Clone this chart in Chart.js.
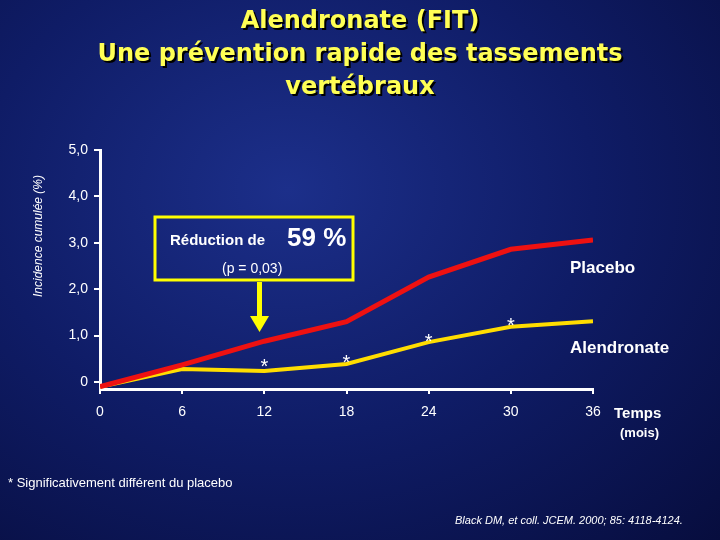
<!DOCTYPE html>
<html><head><meta charset="utf-8">
<script src="https://cdn.jsdelivr.net/npm/chart.js"></script>
<style>html,body{margin:0;padding:0;background:#0a1250}#w{width:720px;height:540px;background:radial-gradient(ellipse at 40% 35%,#1c2f8a 0%,#0f1c66 50%,#070d3e 100%)}</style>
</head><body><div id="w"><canvas id="c" width="720" height="540"></canvas></div>
<script>
const months=[0,6,12,18,24,30,36];
const placebo=[-0.1,0.37,0.88,1.3,2.26,2.86,3.06];
const alendronate=[-0.1,0.28,0.24,0.39,0.86,1.19,1.31];
const yTicks=[0,1,2,3,4,5];
const stars=[[12,0.4],[18,0.5],[24,0.95],[30,1.3]];
const deco={id:'deco',afterDraw(ch){const c=ch.ctx,x=ch.scales.x,y=ch.scales.y;c.save();
c.textAlign='center';c.font='bold 24px "DejaVu Sans"';c.fillStyle='#000';
const t=['Alendronate (FIT)','Une prévention rapide des tassements','vertébraux'];
t.forEach((s,i)=>{c.fillText(s,362,30+i*33);});c.fillStyle='#ffff55';t.forEach((s,i)=>{c.fillText(s,360,28+i*33);});
c.fillStyle='#fff';c.font='italic 12px "Liberation Sans"';c.save();c.translate(42,236);c.rotate(-Math.PI/2);c.fillText('Incidence cumulée (%)',0,0);c.restore();
c.strokeStyle='#ffff00';c.lineWidth=3;c.strokeRect(155,217,198,63);
c.fillStyle='#fff';c.font='bold 15px "Liberation Sans"';c.textAlign='left';c.fillText('Réduction de',170,245);c.font='bold 26px "Liberation Sans"';c.fillText('59 %',287,246);
c.font='14px "Liberation Sans"';c.fillText('(p = 0,03)',222,273);
c.fillStyle='#ffff00';c.fillRect(257,282,5,36);c.beginPath();c.moveTo(250,316);c.lineTo(269,316);c.lineTo(259.5,332);c.fill();
c.fillStyle='#fff';c.font='bold 17px "Liberation Sans"';c.fillText('Placebo',570,273);c.fillText('Alendronate',570,353);
c.font='bold 15px "Liberation Sans"';c.fillText('Temps',614,418);c.font='bold 13px "Liberation Sans"';c.fillText('(mois)',620,437);
c.font='13px "Liberation Sans"';c.fillText('* Significativement différent du placebo',8,487);
c.font='italic 11px "Liberation Sans"';c.fillText('Black DM, et coll. JCEM. 2000; 85: 4118-4124.',455,524);
c.font='20px "Liberation Sans"';c.textAlign='center';stars.forEach(s=>c.fillText('*',x.getPixelForValue(s[0]),y.getPixelForValue(s[1])+10));
c.restore();}};
new Chart(document.getElementById('c'),{type:'line',data:{datasets:[
{data:months.map((m,i)=>({x:m,y:placebo[i]})),borderColor:'#ee1111',borderWidth:5,pointRadius:0,tension:0},
{data:months.map((m,i)=>({x:m,y:alendronate[i]})),borderColor:'#ffdd00',borderWidth:4,pointRadius:0,tension:0}]},
options:{responsive:false,animation:false,layout:{padding:{left:0,right:127,top:150,bottom:0}},plugins:{legend:{display:false},tooltip:{enabled:false}},
scales:{x:{type:'linear',min:0,max:36,afterBuildTicks(s){s.ticks=months.map(v=>({value:v}));},afterFit(s){s.height=151;},
ticks:{color:'#fff',font:{size:14,family:'Liberation Sans'},padding:10},grid:{drawOnChartArea:false,color:'#fff',tickLength:5,lineWidth:2},border:{color:'#fff',width:3}},
y:{min:-0.15,max:5,afterBuildTicks(s){s.ticks=yTicks.map(v=>({value:v}));},afterFit(s){s.width=100;},
ticks:{color:'#fff',font:{size:14,family:'Liberation Sans'},padding:6,callback:v=>v===0?'0':v.toFixed(1).replace('.',',')},grid:{drawOnChartArea:false,color:'#fff',tickLength:6,lineWidth:2},border:{color:'#fff',width:3}}}},
plugins:[deco]});
</script></body></html>
